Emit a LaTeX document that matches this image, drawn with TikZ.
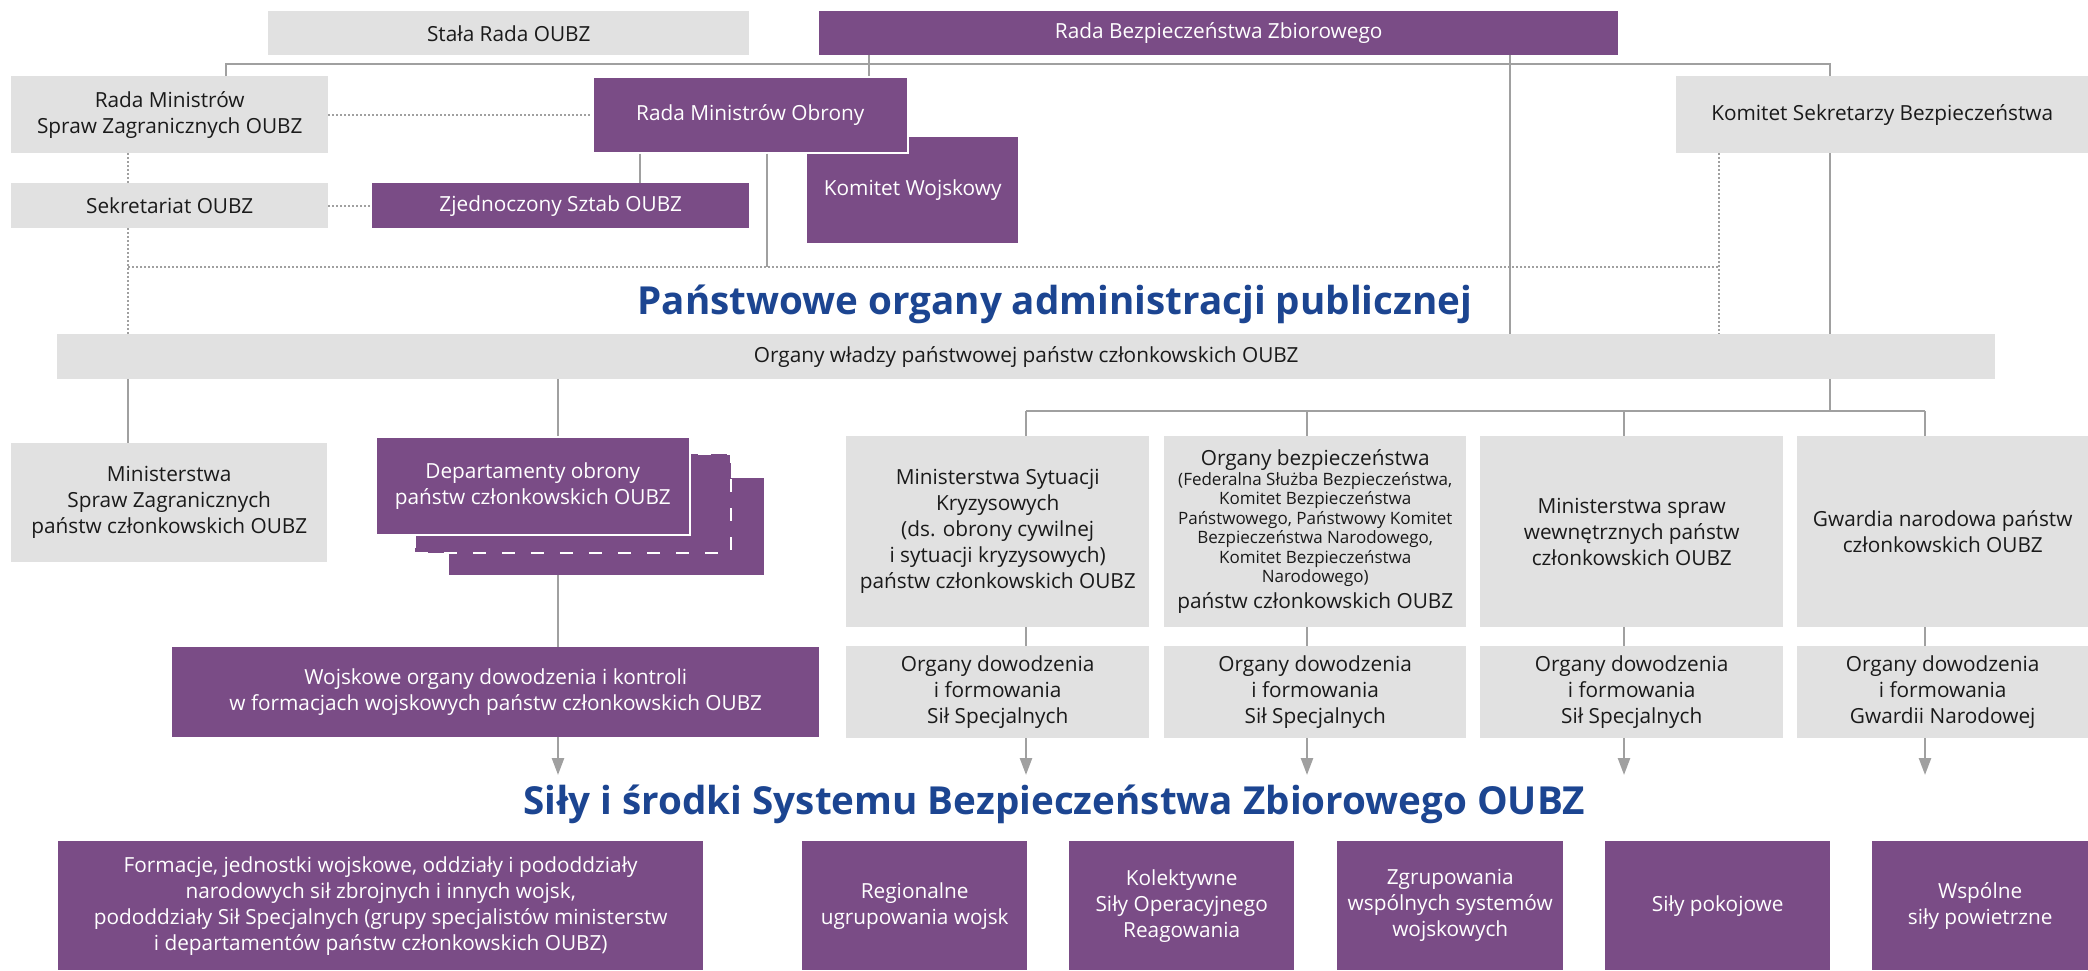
\documentclass[tikz,border=0pt]{standalone}
\usepackage{fontspec}
\setmainfont{Open Sans}
\usepackage{tikz}
\usetikzlibrary{arrows.meta}
\definecolor{oubzpurple}{RGB}{122,76,134}
\definecolor{oubzgray}{RGB}{225,225,225}
\definecolor{oubzblue}{RGB}{28,69,145}
\definecolor{linegray}{RGB}{160,160,160}
\definecolor{textdark}{RGB}{26,26,26}

\begin{document}
\begin{tikzpicture}[x=1pt, y=-1pt,
                          box/.style={rectangle, inner sep=0pt, anchor=north west, align=center, font=\fontsize{20.8}{26}\selectfont},
                          graynode/.style={box, fill=oubzgray, text=textdark},
                          purplenode/.style={box, fill=oubzpurple, text=white},
                          purplenode_framed/.style={purplenode, draw=white, line width=1.5pt},
                          purplenode_dashed/.style={purplenode, draw=white, line width=1.5pt, dash pattern=on 13pt off 16pt},
                          titlenode/.style={anchor=base, text=oubzblue, font=\fontsize{38.6}{46}\selectfont\bfseries},
                          line_solid/.style={draw=linegray, line width=2.5pt},
                          line_dotted/.style={draw=linegray, line width=2pt, dash pattern=on 2pt off 2pt},
                          line_arrow/.style={line_solid, -{Triangle[width=12pt,length=17pt]}},
                      ]
                      \useasboundingbox (0,0) rectangle (2088,970);
                      % Nodes
                      \node[graynode, minimum width=481pt, minimum height=44pt]   (stala)     at (268,11)   {Stała Rada OUBZ};
                      \node[purplenode, minimum width=799pt, minimum height=44pt] (rbz)       at (819,11)   {Rada Bezpieczeństwa Zbiorowego};
                      \node[graynode, minimum width=317pt, minimum height=77pt]   (rmsz)      at (11,76)    {Rada Ministrów\\Spraw Zagranicznych OUBZ};
                      \node[purplenode, minimum width=211pt, minimum height=106pt] (kw)       at (807,137)  {Komitet Wojskowy};
                      \node[purplenode_framed, minimum width=315pt, minimum height=76pt] (rmo) at (592,76) {Rada Ministrów Obrony};
                      \node[graynode, minimum width=412pt, minimum height=77pt]   (ksb)       at (1676,76)  {Komitet Sekretarzy Bezpieczeństwa};
                      \node[graynode, minimum width=317pt, minimum height=45pt]   (sekr)      at (11,183)   {Sekretariat OUBZ};
                      \node[purplenode, minimum width=377pt, minimum height=45pt] (sztab)     at (372,183)  {Zjednoczony Sztab OUBZ};

                      \node[titlenode]                                            (title_adm) at (1055,314) {Państwowe organy administracji publicznej};
                      \node[graynode, minimum width=1938pt, minimum height=45pt]  (owp)       at (57,334)   {Organy władzy państwowej państw członkowskich OUBZ};

                      \node[graynode, minimum width=316pt, minimum height=119pt]  (msz)       at (11,443)   {Ministerstwa\\Spraw Zagranicznych\\państw członkowskich OUBZ};
                      \node[purplenode, minimum width=315pt, minimum height=97pt] (dep_back)  at (449,478)  {};
                      \node[purplenode_dashed, minimum width=316pt, minimum height=99pt] (dep_mid) at (414,453) {};
                      \node[purplenode_framed, minimum width=314pt, minimum height=98pt] (dep_front) at (375,436) {Departamenty obrony\\państw członkowskich OUBZ};
                      \node[purplenode, minimum width=647pt, minimum height=90pt] (wok)       at (172,647)  {Wojskowe organy dowodzenia i kontroli\\w formacjach wojskowych państw członkowskich OUBZ};

                      \node[graynode, minimum width=303pt, minimum height=191pt]  (msk)       at (846,436)  {Ministerstwa Sytuacji\\Kryzysowych\\(ds. obrony cywilnej\\i sytuacji kryzysowych)\\państw członkowskich OUBZ};
                      \node[graynode, minimum width=302pt, minimum height=191pt, text width=302pt, align=flush center] (ob) at (1164,436) {Organy bezpieczeństwa\par
                          {\fontsize{17}{19.5}\selectfont (Federalna Służba Bezpieczeństwa,\\Komitet Bezpieczeństwa\\Państwowego, Państwowy Komitet\\Bezpieczeństwa Narodowego,\\Komitet Bezpieczeństwa\\Narodowego)\par}
                          państw członkowskich OUBZ};
                      \node[graynode, minimum width=303pt, minimum height=191pt]  (msw)       at (1480,436) {Ministerstwa spraw\\wewnętrznych państw\\członkowskich OUBZ};
                      \node[graynode, minimum width=291pt, minimum height=191pt]  (gn)        at (1797,436) {Gwardia narodowa państw\\członkowskich OUBZ};

                      \node[graynode, minimum width=303pt, minimum height=92pt]   (od_msk)    at (846,646)  {Organy dowodzenia\\i formowania\\Sił Specjalnych};
                      \node[graynode, minimum width=302pt, minimum height=92pt]   (od_ob)     at (1164,646) {Organy dowodzenia\\i formowania\\Sił Specjalnych};
                      \node[graynode, minimum width=303pt, minimum height=92pt]   (od_msw)    at (1480,646) {Organy dowodzenia\\i formowania\\Sił Specjalnych};
                      \node[graynode, minimum width=291pt, minimum height=92pt]   (od_gn)     at (1797,646) {Organy dowodzenia\\i formowania\\Gwardii Narodowej};

                      \node[titlenode]                                            (title_sil) at (1054,814) {Siły i środki Systemu Bezpieczeństwa Zbiorowego OUBZ};

                      \node[purplenode, minimum width=645pt, minimum height=129pt] (sil_form)  at (58,841)   {Formacje, jednostki wojskowe, oddziały i pododdziały\\narodowych sił zbrojnych i innych wojsk,\\pododdziały Sił Specjalnych (grupy specjalistów ministerstw\\i departamentów państw członkowskich OUBZ)};
                      \node[purplenode, minimum width=225pt, minimum height=129pt] (sil_reg)   at (802,841)  {Regionalne\\ugrupowania wojsk};
                      \node[purplenode, minimum width=225pt, minimum height=129pt] (sil_kol)   at (1069,841) {Kolektywne\\Siły Operacyjnego\\Reagowania};
                      \node[purplenode, minimum width=226pt, minimum height=129pt] (sil_zgr)   at (1337,841) {Zgrupowania\\wspólnych systemów\\wojskowych};
                      \node[purplenode, minimum width=225pt, minimum height=129pt] (sil_pok)   at (1605,841) {Siły pokojowe};
                      \node[purplenode, minimum width=216pt, minimum height=129pt] (sil_pow)   at (1872,841) {Wspólne\\siły powietrzne};

                      % Points
                      \coordinate (bus_left)  at (226,64);
                      \coordinate (bus_right) at (1830,64);
                      \coordinate (dot_left)  at (128,267);
                      \coordinate (dot_right) at (1719,267);
                      \coordinate (rmo_drop)  at (767,267);
                      \coordinate (x_rmo)     at (869,0);
                      \coordinate (x_rbz)     at (1510,0);
                      \coordinate (x_sztab)   at (640,0);
                      \coordinate (x_dep)     at (558,0);
                      \coordinate (drop_msk)  at (1026,411);
                      \coordinate (drop_ob)   at (1307,411);
                      \coordinate (drop_msw)  at (1624,411);
                      \coordinate (drop_gn)   at (1925,411);
                      \coordinate (tip_row)   at (0,775);

                      %Lines
                      \draw[line_solid] (rmsz.north -| bus_left) -- (bus_left) -- (bus_right) -- (ksb.north -| bus_right);
                      \draw[line_solid] (rbz.south -| x_rmo) -- (rmo.north -| x_rmo);
                      \draw[line_solid] (rbz.south -| x_rbz) -- (owp.north -| x_rbz);
                      \draw[line_solid] (ksb.south -| bus_right) -- (owp.north -| bus_right);
                      \draw[line_solid] (rmo.south -| x_sztab) -- (sztab.north -| x_sztab);
                      \draw[line_solid] (rmo.south -| rmo_drop) -- (rmo_drop);

                      \draw[line_dotted] (rmsz.east) -- (rmsz.east -| rmo.west);
                      \draw[line_dotted] (sekr.east) -- (sekr.east -| sztab.west);
                      \draw[line_dotted] (rmsz.south -| dot_left) -- (sekr.north -| dot_left);
                      \draw[line_dotted] (sekr.south -| dot_left) -- (owp.north -| dot_left);
                      \draw[line_dotted] (dot_left) -- (dot_right);
                      \draw[line_dotted] (ksb.south -| dot_right) -- (owp.north -| dot_right);

                      \draw[line_solid] (owp.south -| dot_left) -- (msz.north -| dot_left);
                      \draw[line_solid] (owp.south -| x_dep) -- (dep_front.north -| x_dep);
                      \draw[line_solid] (dep_back.south -| x_dep) -- (wok.north -| x_dep);
                      \draw[line_arrow] (wok.south -| x_dep) -- (tip_row -| x_dep);

                      \draw[line_solid] (owp.south -| bus_right) -- (bus_right |- drop_msk);
                      \draw[line_solid] (drop_msk) -- (drop_gn);
                      \draw[line_solid] (drop_msk) -- (msk.north -| drop_msk);
                      \draw[line_solid] (drop_ob) -- (ob.north -| drop_ob);
                      \draw[line_solid] (drop_msw) -- (msw.north -| drop_msw);
                      \draw[line_solid] (drop_gn) -- (gn.north -| drop_gn);
                      \draw[line_solid] (msk.south -| drop_msk) -- (od_msk.north -| drop_msk);
                      \draw[line_solid] (ob.south -| drop_ob) -- (od_ob.north -| drop_ob);
                      \draw[line_solid] (msw.south -| drop_msw) -- (od_msw.north -| drop_msw);
                      \draw[line_solid] (gn.south -| drop_gn) -- (od_gn.north -| drop_gn);
                      \draw[line_arrow] (od_msk.south -| drop_msk) -- (tip_row -| drop_msk);
                      \draw[line_arrow] (od_ob.south -| drop_ob) -- (tip_row -| drop_ob);
                      \draw[line_arrow] (od_msw.south -| drop_msw) -- (tip_row -| drop_msw);
                      \draw[line_arrow] (od_gn.south -| drop_gn) -- (tip_row -| drop_gn);
                  \end{tikzpicture}
\end{document}
